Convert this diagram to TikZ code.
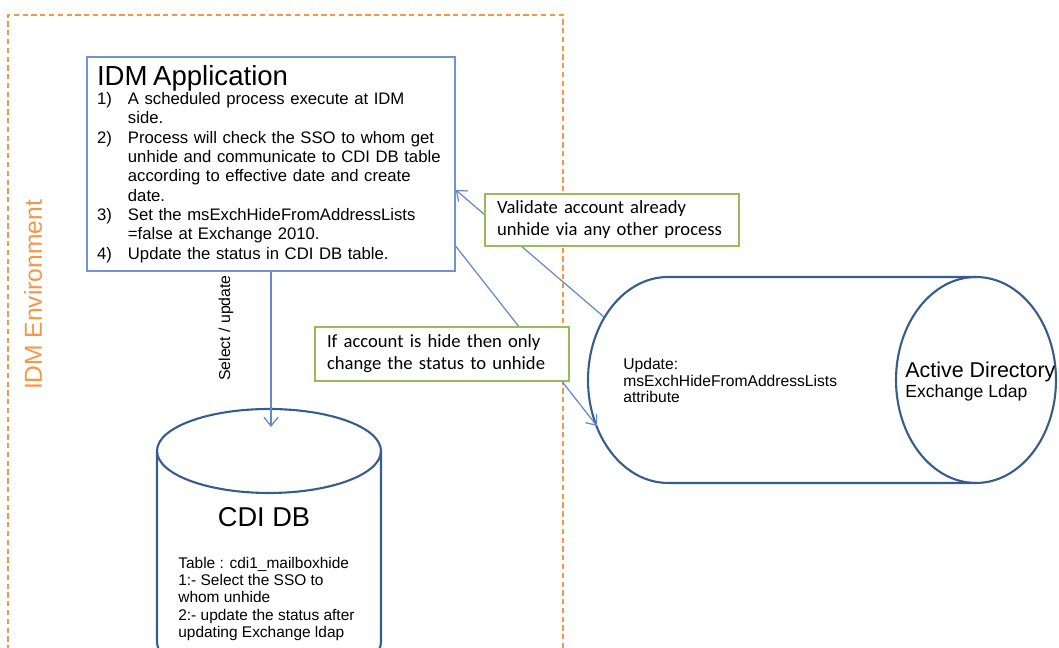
\documentclass[tikz,border=0pt]{standalone}
\usepackage{fontspec}
\setmainfont{Liberation Sans}
\newfontfamily\notefont{Carlito}
\usepackage{tikz}
\usetikzlibrary{arrows.meta}

\definecolor{envorange}{RGB}{247,150,70}
\definecolor{boxblue}{RGB}{112,148,206}
\definecolor{flowblue}{RGB}{98,138,200}
\definecolor{cylblue}{RGB}{56,93,138}
\definecolor{notegreen}{RGB}{155,187,89}

\newcommand{\idmnum}[1]{\makebox[17.6pt][l]{#1}}
\newcommand{\idmhang}{\hspace*{17.6pt}}

\begin{document}
\begin{tikzpicture}[x=0.02cm,y=0.02cm,
    idmbox/.style={draw=boxblue, line width=0.9pt, minimum height=4.28cm,
      text width=6.96cm, inner xsep=0.2cm, inner ysep=0pt, align=left,
      font=\fontsize{9.5}{11}\selectfont},
    notebox/.style={draw=notegreen, line width=1.4pt, fill=white,
      text width=4.6cm, inner xsep=0.24cm, inner ysep=0pt, align=left,
      font=\notefont\fontsize{10.6}{12.5}\selectfont},
    flow/.style={draw=flowblue, line width=0.7pt,
      -{Straight Barb[length=5pt,width=8pt]}},
    cyl/.style={draw=cylblue, line width=1.2pt},
    smalltext/.style={anchor=north west, inner sep=0pt, align=left}]
    \useasboundingbox (0,0) rectangle (1059,648);
    \clip (0,0) rectangle (1059,648);

    % environment frame
    \draw[envorange, line width=0.7pt, dash pattern=on 3pt off 2pt]
      (8,-20) rectangle (563,633);
    \node[rotate=90, text=envorange, font=\fontsize{14}{16}\selectfont]
      (envlabel) at (33,353) {IDM Environment};

    % IDM application
    \node[idmbox] (idmapp) at (271,484) {%
      {\fontsize{15.7}{17}\selectfont IDM Application\par}
      \idmnum{1)}A scheduled process execute at IDM\\
      \idmhang side.\\
      \idmnum{2)}Process will check the SSO to whom get\\
      \idmhang unhide and communicate to CDI DB table\\
      \idmhang according to effective date and create\\
      \idmhang date.\\
      \idmnum{3)}Set the msExchHideFromAddressLists\\
      \idmhang =false at Exchange 2010.\\
      \idmnum{4)}Update the status in CDI DB table.};

    % CDI DB cylinder
    \draw[cyl] (157,197) -- (157,6)
      arc[start angle=180, end angle=360, x radius=2.24cm, y radius=0.84cm]
      -- (381,197);
    \draw[cyl] (269,197) ellipse [x radius=2.24cm, y radius=0.84cm];
    \coordinate (cditop) at (271,221);
    \node[font=\fontsize{15.5}{17}\selectfont] (cdilabel) at (264,131) {CDI DB};
    \node[smalltext, font=\fontsize{8.8}{9.8}\selectfont] (cdinote) at (178,91)
      {Table : cdi1\_mailboxhide\\
       1:- Select the SSO to\\
       whom unhide\\
       2:- update the status after\\
       updating Exchange ldap};

    % Active Directory cylinder
    \draw[cyl] (976,371) -- (668,371)
      arc[start angle=90, end angle=270, x radius=1.6cm, y radius=2.06cm]
      -- (976,165);
    \draw[cyl] (976,268) ellipse [x radius=1.6cm, y radius=2.06cm];
    \coordinate (advalid) at (604,331);
    \coordinate (adupdate) at (597,222);
    \node[smalltext, font=\fontsize{8.9}{9.4}\selectfont] (adnote) at (623,290)
      {Update:\\
       msExchHideFromAddressLists\\
       attribute};
    \node[anchor=west, inner sep=0pt, font=\fontsize{12.2}{14}\selectfont]
      (adlabel) at (905,276) {Active Directory};
    \node[anchor=west, inner sep=0pt, font=\fontsize{10}{12}\selectfont]
      (adsub) at (905,255) {Exchange Ldap};

    % connectors
    \draw[flow] (idmapp.south -| cditop) -- (cditop);
    \node[rotate=90, font=\fontsize{9}{11}\selectfont] (selupd) at (226,320)
      {Select / update};
    \draw[flow] (advalid) -- (idmapp.-8);
    \draw[flow] (idmapp.-24.5) -- (adupdate);

    % notes
    \node[notebox, minimum height=1.04cm] (validnote) at (612,428)
      {Validate account already\\unhide via any other process};
    \node[notebox, minimum height=1.08cm] (hidenote) at (442,294)
      {If account is hide then only\\change the status to unhide};
  \end{tikzpicture}
\end{document}
